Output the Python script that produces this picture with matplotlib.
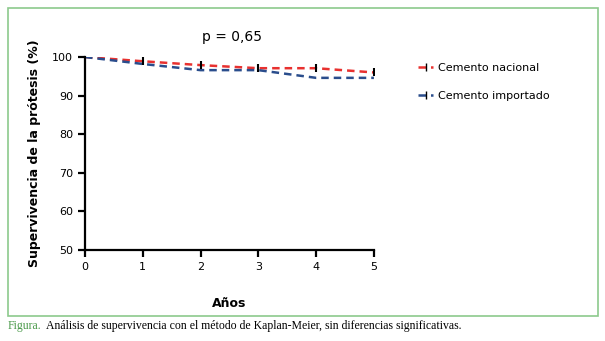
import matplotlib.pyplot as plt
from matplotlib.patches import Rectangle
from matplotlib.lines import Line2D

years = [0, 1, 2, 3, 4, 5]
nacional = [100, 98.9, 97.9, 97.1, 97.1, 96.0]
importado = [100, 98.2, 96.6, 96.6, 94.6, 94.6]
censor_years = [1, 2, 3, 4, 5]
censor_nacional = [98.9, 97.9, 97.1, 97.1, 96.0]
yticks = [50, 60, 70, 80, 90, 100]

fig = plt.figure(figsize=(6.05, 3.41), dpi=100)
fig.patches.append(Rectangle((0.0132, 0.0733), 0.975, 0.903, transform=fig.transFigure,
                             fill=False, edgecolor="#8cc98c", linewidth=1.2))

ax = fig.add_axes([0.1405, 0.2669, 0.4775, 0.5659])
ax.plot(years, nacional, color="#e8312f", linestyle=(0, (3, 2)), linewidth=1.8)
ax.plot(years, importado, color="#2a4d8c", linestyle=(0, (3, 2)), linewidth=1.8)
ax.plot(censor_years, censor_nacional, linestyle="none", marker="|", color="black",
        markersize=6, markeredgewidth=1.5)

ax.set_xlim(0, 5)
ax.set_ylim(50, 100)
ax.set_xticks(years)
ax.set_yticks(yticks)
for s in ["top", "right"]:
    ax.spines[s].set_visible(False)
for s in ["left", "bottom"]:
    ax.spines[s].set_linewidth(1.6)
ax.tick_params(width=1.6, length=5, labelsize=8)
ax.set_xlabel("Años", fontsize=9, fontweight="bold", labelpad=18)
ax.set_ylabel("Supervivencia de la prótesis (%)", fontsize=9, fontweight="bold", labelpad=8)
ax.text(2.55, 103.5, "p = 0,65", fontsize=10, ha="center", va="bottom")

handles = [
    Line2D([0], [0], color="#e8312f", linestyle=(0, (3, 2)), linewidth=1.8,
           marker="|", markeredgecolor="black", markersize=6),
    Line2D([0], [0], color="#2a4d8c", linestyle=(0, (3, 2)), linewidth=1.8,
           marker="|", markeredgecolor="black", markersize=6),
]
fig.legend(handles, ["Cemento nacional", "Cemento importado"], loc="upper left",
           bbox_to_anchor=(0.675, 0.845), frameon=False, fontsize=8,
           handlelength=1.3, handletextpad=0.5, labelspacing=1.65)

fig.text(0.0132, 0.044, "Figura.", color="#4a9a4a", fontsize=8.5,
         family="Liberation Serif", va="center")
fig.text(0.076, 0.044,
         "Análisis de supervivencia con el método de Kaplan-Meier, sin diferencias significativas.",
         color="black", fontsize=8.5, family="Liberation Serif", va="center")

fig.savefig("out.png", dpi=100)
